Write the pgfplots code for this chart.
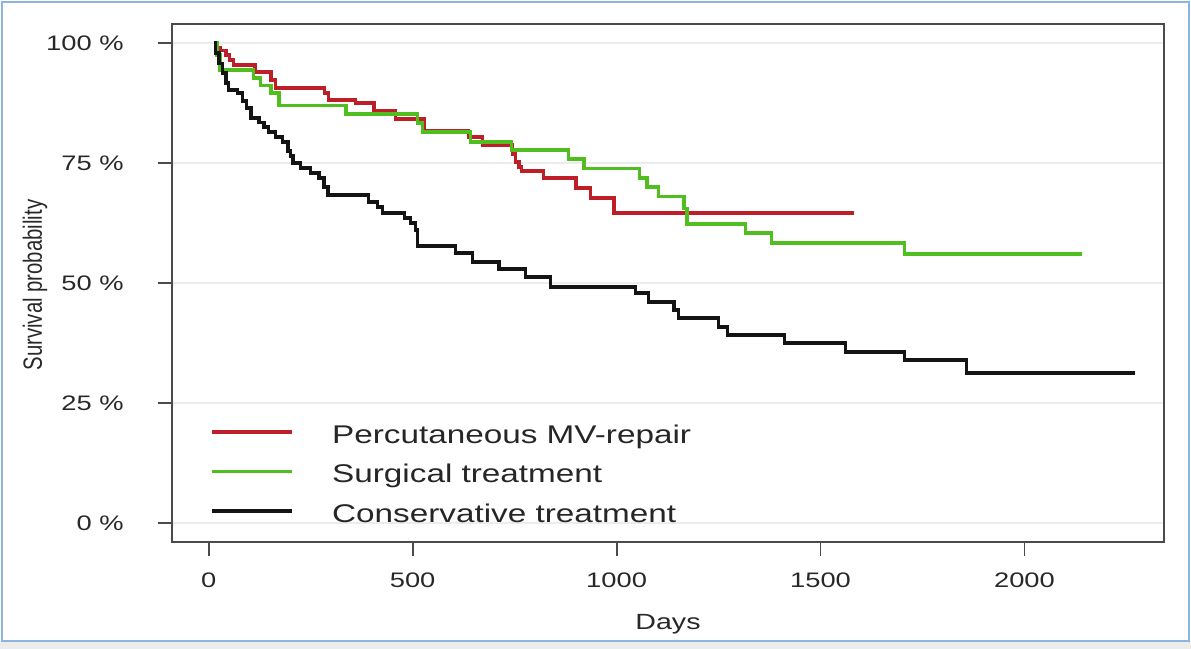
\documentclass[border=0pt]{standalone}
\usepackage{pgfplots}
\pgfplotsset{compat=1.18}
\usepackage{fontspec}
\setmainfont{Liberation Sans}[FakeStretch=1.3]
\newfontfamily\ylabfont{Liberation Sans}[FakeStretch=0.77]
\definecolor{kmred}{RGB}{190,30,40}
\definecolor{kmgreen}{RGB}{80,190,30}
\definecolor{axgray}{RGB}{75,75,75}
\definecolor{txtgray}{RGB}{40,40,40}
\definecolor{framecol}{RGB}{140,180,220}
\begin{document}
\begin{tikzpicture}
\useasboundingbox (-86pt,-53.5pt) rectangle (509.5pt,271pt);
\fill[gray!15] (-86pt,-53.5pt) rectangle (509.5pt,-49.5pt);
\draw[framecol, line width=1pt] (-85pt,-49.5pt) rectangle (508.5pt,270pt);
\begin{axis}[
  scale only axis, width=496pt, height=259pt,
  at={(0,0)}, anchor=south west,
  xmin=-90, xmax=2342, ymin=-4, ymax=104,
  xtick={0,500,1000,1500,2000}, xticklabels={0,500,1000,1500,2000},
  ytick={0,25,50,75,100}, yticklabels={0 \%,25 \%,50 \%,75 \%,100 \%},
  xtick pos=bottom, ytick pos=left,
  tick align=outside, major tick length=7pt,
  axis line style={axgray, line width=1pt},
  tick style={axgray, line width=0.9pt},
  ymajorgrids, grid style={gray!15, line width=0.8pt},
  ticklabel style={font=\fontsize{10.5}{12}\selectfont, text=txtgray},
  yticklabel style={anchor=east, inner sep=0pt, xshift=-17pt},
  xticklabel style={anchor=north, inner sep=0pt, yshift=-8pt},
  xlabel={Days},
  every axis x label/.style={at={(axis description cs:0.5,0)}, anchor=base, yshift=-43.5pt, font=\fontsize{11}{13}\selectfont, text=txtgray},
  ylabel={Survival probability},
  every axis y label/.style={at={(axis description cs:-0.1381,0.496)}, rotate=90, anchor=center, font=\ylabfont\fontsize{13.2}{15}\selectfont, text=txtgray},
  legend style={at={(axis description cs:0.0383,0.234)}, anchor=north west, draw=none, fill=none, inner sep=0pt, row sep=0pt, font=\fontsize{12.8}{15}\selectfont, text=black!85, nodes={inner sep=0pt, text height=11pt, text depth=8.75pt}},
  legend cell align=left,
  legend image code/.code={\draw[#1] (0pt,4.5pt) -- (40pt,4.5pt); \path[draw=none] (0pt,4.5pt) -- (60pt,4.5pt);},
]
\addplot[const plot, kmred, line width=1.8pt] coordinates {
(13,100) (20,99) (29,98.5) (42,97.5) (51,96.5) (61,95.4) (113,94) (152,92.3) (164,90.6) (284,89.6) (294,88.1) (360,87.5) (405,86) (458,84.2) (529,81.7) (637,80.4) (671,78.75) (745,76.9) (752,75.2) (760,74.2) (767,73.3) (821,71.9) (900,69.8) (936,67.7) (993,64.6) (1581,64.6)
};
\addlegendentry{Percutaneous MV-repair}
\addplot[const plot, kmgreen, line width=1.8pt] coordinates {
(13,100) (20,97.5) (27,94.4) (110,92.7) (127,91.2) (152,89.6) (172,87) (336,85.2) (512,83.3) (524,81.5) (642,79.4) (742,77.7) (882,75.8) (920,73.9) (1056,71.9) (1075,70) (1103,68) (1165,65.5) (1172,62.3) (1316,60.4) (1380,58.3) (1706,56) (2142,56)
};
\addlegendentry{Surgical treatment}
\addplot[const plot, black!92, line width=1.8pt] coordinates {
(12,100) (17,98) (25,95.8) (34,93.75) (42,91.7) (49,90.2) (71,89.6) (83,88) (93,86.5) (103,84.4) (123,83.5) (135,82.5) (147,81.5) (164,80.4) (181,79.4) (194,77.5) (201,76.5) (206,75) (225,74) (250,72.9) (270,71.9) (282,70) (292,68.3) (392,66.9) (414,65.8) (426,64.6) (480,63.5) (495,62.5) (507,61) (512,57.7) (605,56.25) (647,54.4) (711,52.9) (777,51.2) (838,49.2) (1046,47.9) (1078,46) (1140,44.4) (1152,42.7) (1250,40.8) (1272,39.2) (1412,37.5) (1561,35.6) (1706,34) (1858,31.25) (2270,31.25)
};
\addlegendentry{Conservative treatment}
\end{axis}
\end{tikzpicture}
\end{document}
